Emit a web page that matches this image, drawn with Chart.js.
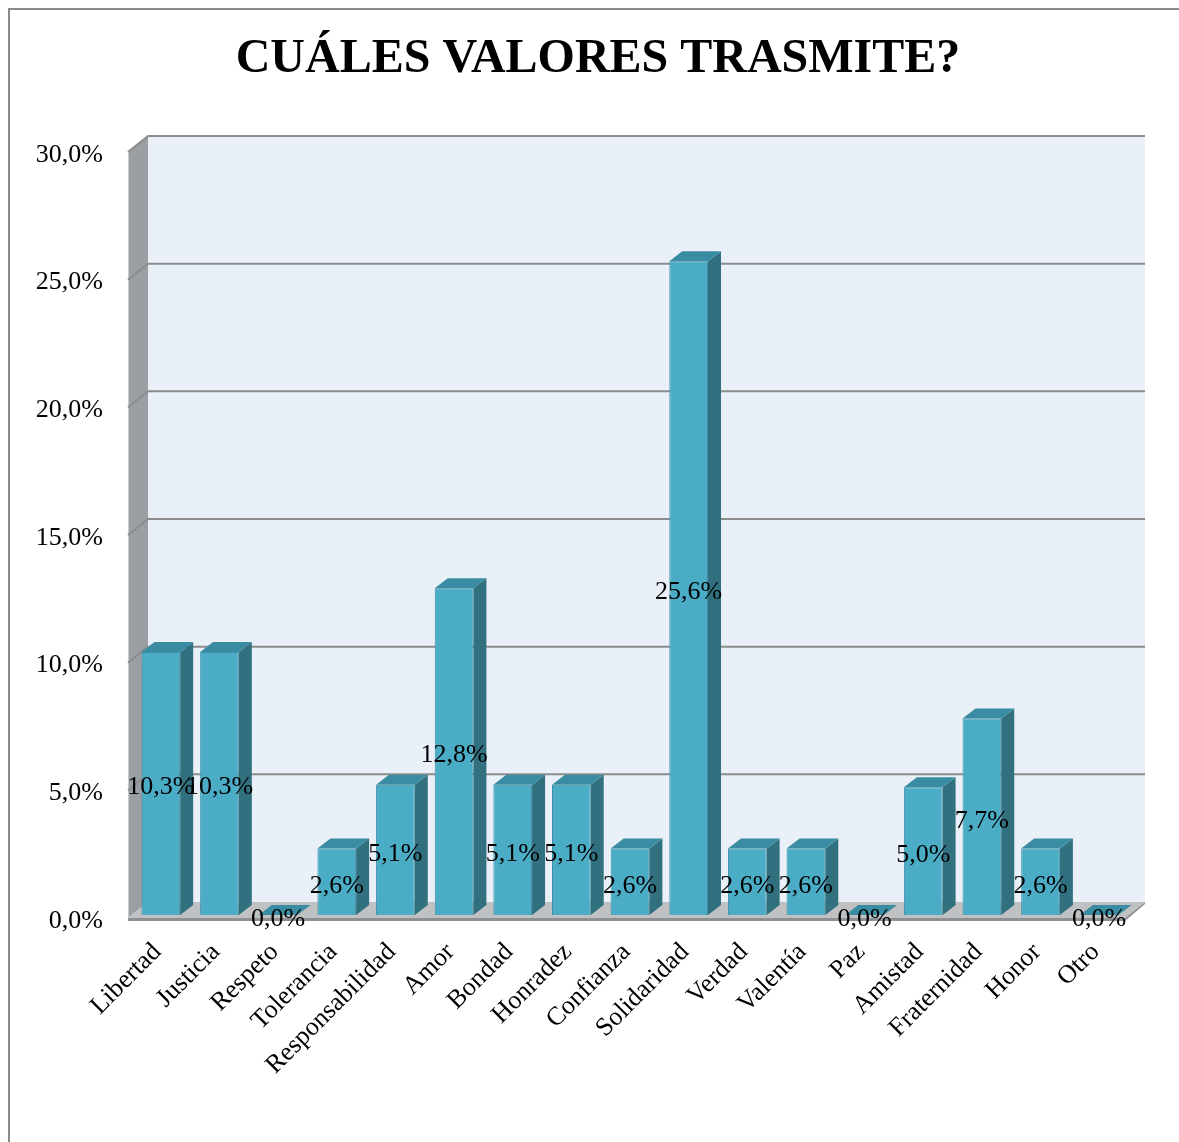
<!DOCTYPE html>
<html>
<head>
<meta charset="utf-8">
<script src="https://cdn.jsdelivr.net/npm/chart.js@4"></script>
<style>
  html, body { margin: 0; padding: 0; background: #ffffff; }
  #wrap { width: 1179px; height: 1142px; position: relative; }
  canvas { display: block; }
</style>
</head>
<body>
<div id="wrap"><canvas id="c" width="1179" height="1142"></canvas></div>
<script>
const categories = ["Libertad", "Justicia", "Respeto", "Tolerancia", "Responsabilidad", "Amor", "Bondad", "Honradez", "Confianza", "Solidaridad", "Verdad", "Valentía", "Paz", "Amistad", "Fraternidad", "Honor", "Otro"];
const values = [10.3, 10.3, 0.0, 2.6, 5.1, 12.8, 5.1, 5.1, 2.6, 25.6, 2.6, 2.6, 0.0, 5.0, 7.7, 2.6, 0.0];
const yTicks = [0, 5, 10, 15, 20, 25, 30];
const titleText = "CUÁLES VALORES TRASMITE?";

const SERIF = '"Liberation Serif", "Times New Roman", "DejaVu Serif", serif';
const fmt = v => v.toFixed(1).replace('.', ',') + '%';

// 3D projection styling
const DX = 20, DY = -16;      // wall depth
const SX = 3.5, SY = -3;      // bar set-back from front plane
const BDX = 13, BDY = -10;    // bar depth

const framePlugin = {
  id: 'frame',
  beforeDraw(chart) {
    const ctx = chart.ctx;
    ctx.save();
    ctx.fillStyle = '#ffffff';
    ctx.fillRect(0, 0, chart.width, chart.height);
    ctx.strokeStyle = '#8a8a8a';
    ctx.lineWidth = 2;
    ctx.beginPath();
    ctx.moveTo(9, chart.height);
    ctx.lineTo(9, 9);
    ctx.lineTo(chart.width, 9);
    ctx.stroke();
    // title
    ctx.fillStyle = '#000000';
    ctx.font = 'bold 48px ' + SERIF;
    ctx.textAlign = 'center';
    ctx.textBaseline = 'middle';
    ctx.fillText(titleText, 598, 60);
    ctx.restore();
  }
};

const wallsPlugin = {
  id: 'walls',
  beforeDatasetsDraw(chart) {
    const ctx = chart.ctx;
    const y = chart.scales.y;
    const a = chart.chartArea;
    const L = a.left, R = a.right;
    const T = y.getPixelForValue(yTicks[yTicks.length - 1]);
    const B = y.getPixelForValue(0);
    ctx.save();
    // back wall
    ctx.fillStyle = '#e9f0f8';
    ctx.fillRect(L + DX, T + DY, R - L, B - T);
    // side wall
    ctx.fillStyle = '#9a9fa3';
    ctx.beginPath();
    ctx.moveTo(L, T); ctx.lineTo(L + DX, T + DY); ctx.lineTo(L + DX, B + DY); ctx.lineTo(L, B);
    ctx.closePath(); ctx.fill();
    ctx.strokeStyle = '#c8cbcd';
    ctx.lineWidth = 1;
    ctx.beginPath(); ctx.moveTo(L + 0.5, T); ctx.lineTo(L + 0.5, B); ctx.stroke();
    // gridlines
    ctx.strokeStyle = '#8c8c8c';
    ctx.lineWidth = 2;
    yTicks.forEach(v => {
      if (v === 0) return;
      const py = y.getPixelForValue(v);
      ctx.beginPath();
      ctx.moveTo(L, py);
      ctx.lineTo(L + DX, py + DY);
      ctx.lineTo(R + DX, py + DY);
      ctx.stroke();
    });
    // floor
    ctx.fillStyle = '#bfc1c3';
    ctx.beginPath();
    ctx.moveTo(L, B); ctx.lineTo(R, B); ctx.lineTo(R + DX, B + DY); ctx.lineTo(L + DX, B + DY);
    ctx.closePath(); ctx.fill();
    ctx.fillStyle = '#8e9194';
    ctx.beginPath();
    ctx.moveTo(L, B); ctx.lineTo(R, B); ctx.lineTo(R + DX, B + DY); ctx.lineTo(R + DX, B + DY + 2); ctx.lineTo(R, B + 3); ctx.lineTo(L, B + 3);
    ctx.closePath(); ctx.fill();
    ctx.restore();
  },
  beforeDatasetDraw(chart) {
    chart.ctx.save();
    chart.ctx.translate(SX, SY);
  },
  afterDatasetDraw(chart, args) {
    const ctx = chart.ctx;
    args.meta.data.forEach(el => {
      const p = el.getProps(['x', 'y', 'base', 'width'], true);
      const l = p.x - p.width / 2, r = p.x + p.width / 2;
      // side face
      ctx.fillStyle = '#31707f';
      ctx.beginPath();
      ctx.moveTo(r, p.y); ctx.lineTo(r + BDX, p.y + BDY); ctx.lineTo(r + BDX, p.base + BDY); ctx.lineTo(r, p.base);
      ctx.closePath(); ctx.fill();
      // top face
      ctx.fillStyle = '#3a8ca3';
      ctx.beginPath();
      ctx.moveTo(l, p.y); ctx.lineTo(r, p.y); ctx.lineTo(r + BDX, p.y + BDY); ctx.lineTo(l + BDX, p.y + BDY);
      ctx.closePath(); ctx.fill();
    });
    ctx.restore();
  },
  afterDatasetsDraw(chart) {
    const ctx = chart.ctx;
    const meta = chart.getDatasetMeta(0);
    ctx.save();
    ctx.fillStyle = '#000000';
    ctx.font = '26px ' + SERIF;
    ctx.textAlign = 'center';
    ctx.textBaseline = 'middle';
    meta.data.forEach((el, i) => {
      const p = el.getProps(['x', 'y', 'base'], true);
      ctx.fillText(fmt(values[i]), p.x + SX, (p.y + p.base) / 2 + SY + 4);
    });
    ctx.restore();
  }
};

new Chart(document.getElementById('c'), {
  type: 'bar',
  data: {
    labels: categories,
    datasets: [{
      data: values,
      backgroundColor: '#4bacc6',
      borderColor: '#3e8fa6',
      borderWidth: 1,
      categoryPercentage: 1,
      barPercentage: 0.66,
      clip: false
    }]
  },
  options: {
    responsive: false,
    animation: false,
    devicePixelRatio: 1,
    layout: { padding: { left: 12, right: 54, top: 152, bottom: 0 } },
    plugins: {
      legend: { display: false },
      tooltip: { enabled: false },
      title: { display: false }
    },
    scales: {
      x: {
        grid: { display: false },
        border: { display: false },
        ticks: {
          color: '#000000',
          font: { family: SERIF, size: 26 },
          minRotation: 45,
          maxRotation: 45,
          autoSkip: false,
          padding: 11
        },
        afterFit(scale) { scale.height = 224; }
      },
      y: {
        min: 0,
        max: 30,
        grid: { display: false },
        border: { display: false },
        ticks: {
          stepSize: 5,
          color: '#000000',
          font: { family: SERIF, size: 26 },
          padding: 17,
          labelOffset: 3,
          callback: v => fmt(v)
        },
        afterFit(scale) { scale.width = 116; }
      }
    }
  },
  plugins: [framePlugin, wallsPlugin]
});
</script>
</body>
</html>
